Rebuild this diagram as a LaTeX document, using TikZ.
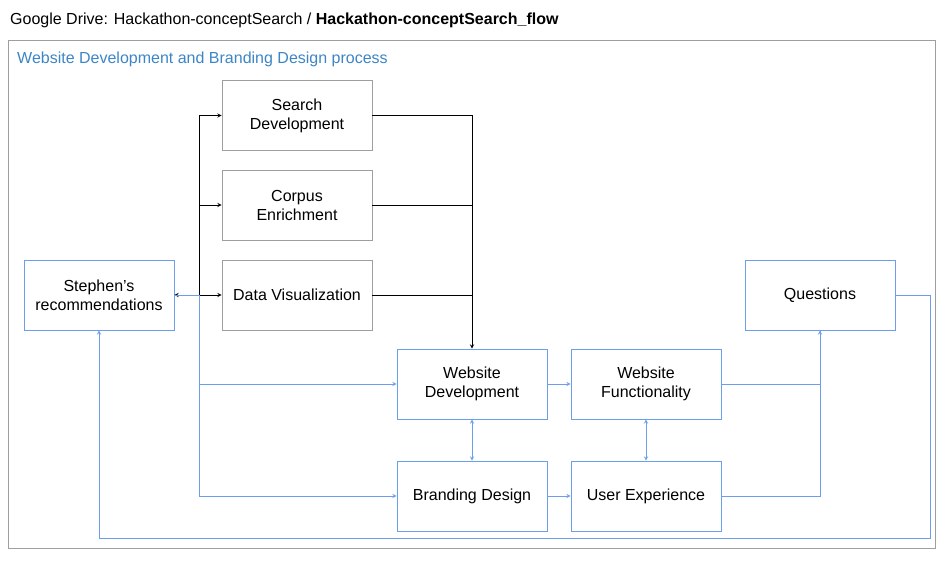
\documentclass[tikz,border=0pt]{standalone}
\usepackage{fontspec}
\setmainfont{Liberation Sans}
\definecolor{flowblue}{HTML}{6D9EEB}
\definecolor{titleblue}{HTML}{3D85C6}
\definecolor{boxgray}{HTML}{9E9E9E}
\tikzset{
    box/.style={draw=boxgray, line width=0.8pt, minimum width=150pt, minimum height=70pt, align=center, inner sep=0pt},
    bluebox/.style={box, draw=flowblue},
    blk/.style={line width=0.9pt, black},
    blu/.style={line width=0.9pt, flowblue}
}
\begin{document}
\begin{tikzpicture}[>=stealth, font=\fontsize{16pt}{19pt}\selectfont, line join=miter, x=1pt, y=-1pt]
    \useasboundingbox (0,0) rectangle (946,561);
    \node[anchor=base west, inner sep=0pt] (title) at (10,25) {Google Drive: Hackathon-conceptSearch / \textbf{Hackathon-conceptSearch\_flow}};
    \draw[boxgray, line width=0.8pt] (8,40) rectangle (935,548);
    \node[anchor=base west, inner sep=0pt, text=titleblue] (sub) at (17,64) {Website Development and Branding Design process};
    % boxes
    \node[box] (search) at (297,115.5) {Search\\Development};
    \node[box] (corpus) at (297,205) {Corpus\\Enrichment};
    \node[box] (dataviz) at (297,295) {Data Visualization};
    \node[bluebox] (stephen) at (99,295) {Stephen’s\\recommendations};
    \node[bluebox] (questions) at (820,295) {Questions};
    \node[bluebox] (webdev) at (472,384) {Website\\Development};
    \node[bluebox] (webfunc) at (646,384) {Website\\Functionality};
    \node[bluebox] (brand) at (472,496) {Branding Design};
    \node[bluebox] (ux) at (646,496) {User Experience};
    % junctions
    \coordinate (split) at (199,295);
    \coordinate (merge) at (472,295);
    % left bus
    \draw[blk,->] (split) -- (stephen.east);
    \draw[blk,->] (split) |- (search.west);
    \draw[blk,->] (split) |- (corpus.west);
    \draw[blk,->] (split) -- (dataviz.west);
    \draw[blu] (stephen.east) -- (split);
    \draw[blu,->] (split) |- (webdev.west);
    \draw[blu,->] (split) |- (brand.west);
    % into website development
    \draw[blk] (search.east) -| (merge);
    \draw[blk] (corpus.east) -| (merge);
    \draw[blk] (dataviz.east) -- (merge);
    \draw[blk,->] (merge) -- (webdev.north);
    % lower block
    \draw[blu,->] (webdev) -- (webfunc);
    \draw[blu,->] (brand) -- (ux);
    \draw[blu,<->] (webdev) -- (brand);
    \draw[blu,<->] (webfunc) -- (ux);
    \draw[blu] (webfunc.east) -| (questions.south);
    \draw[blu,->] (ux.east) -| (questions.south);
    % back to Stephen
    \draw[blu,->] (questions.east) -- (930,295) -- (930,538) -| (stephen.south);
\end{tikzpicture}
\end{document}
